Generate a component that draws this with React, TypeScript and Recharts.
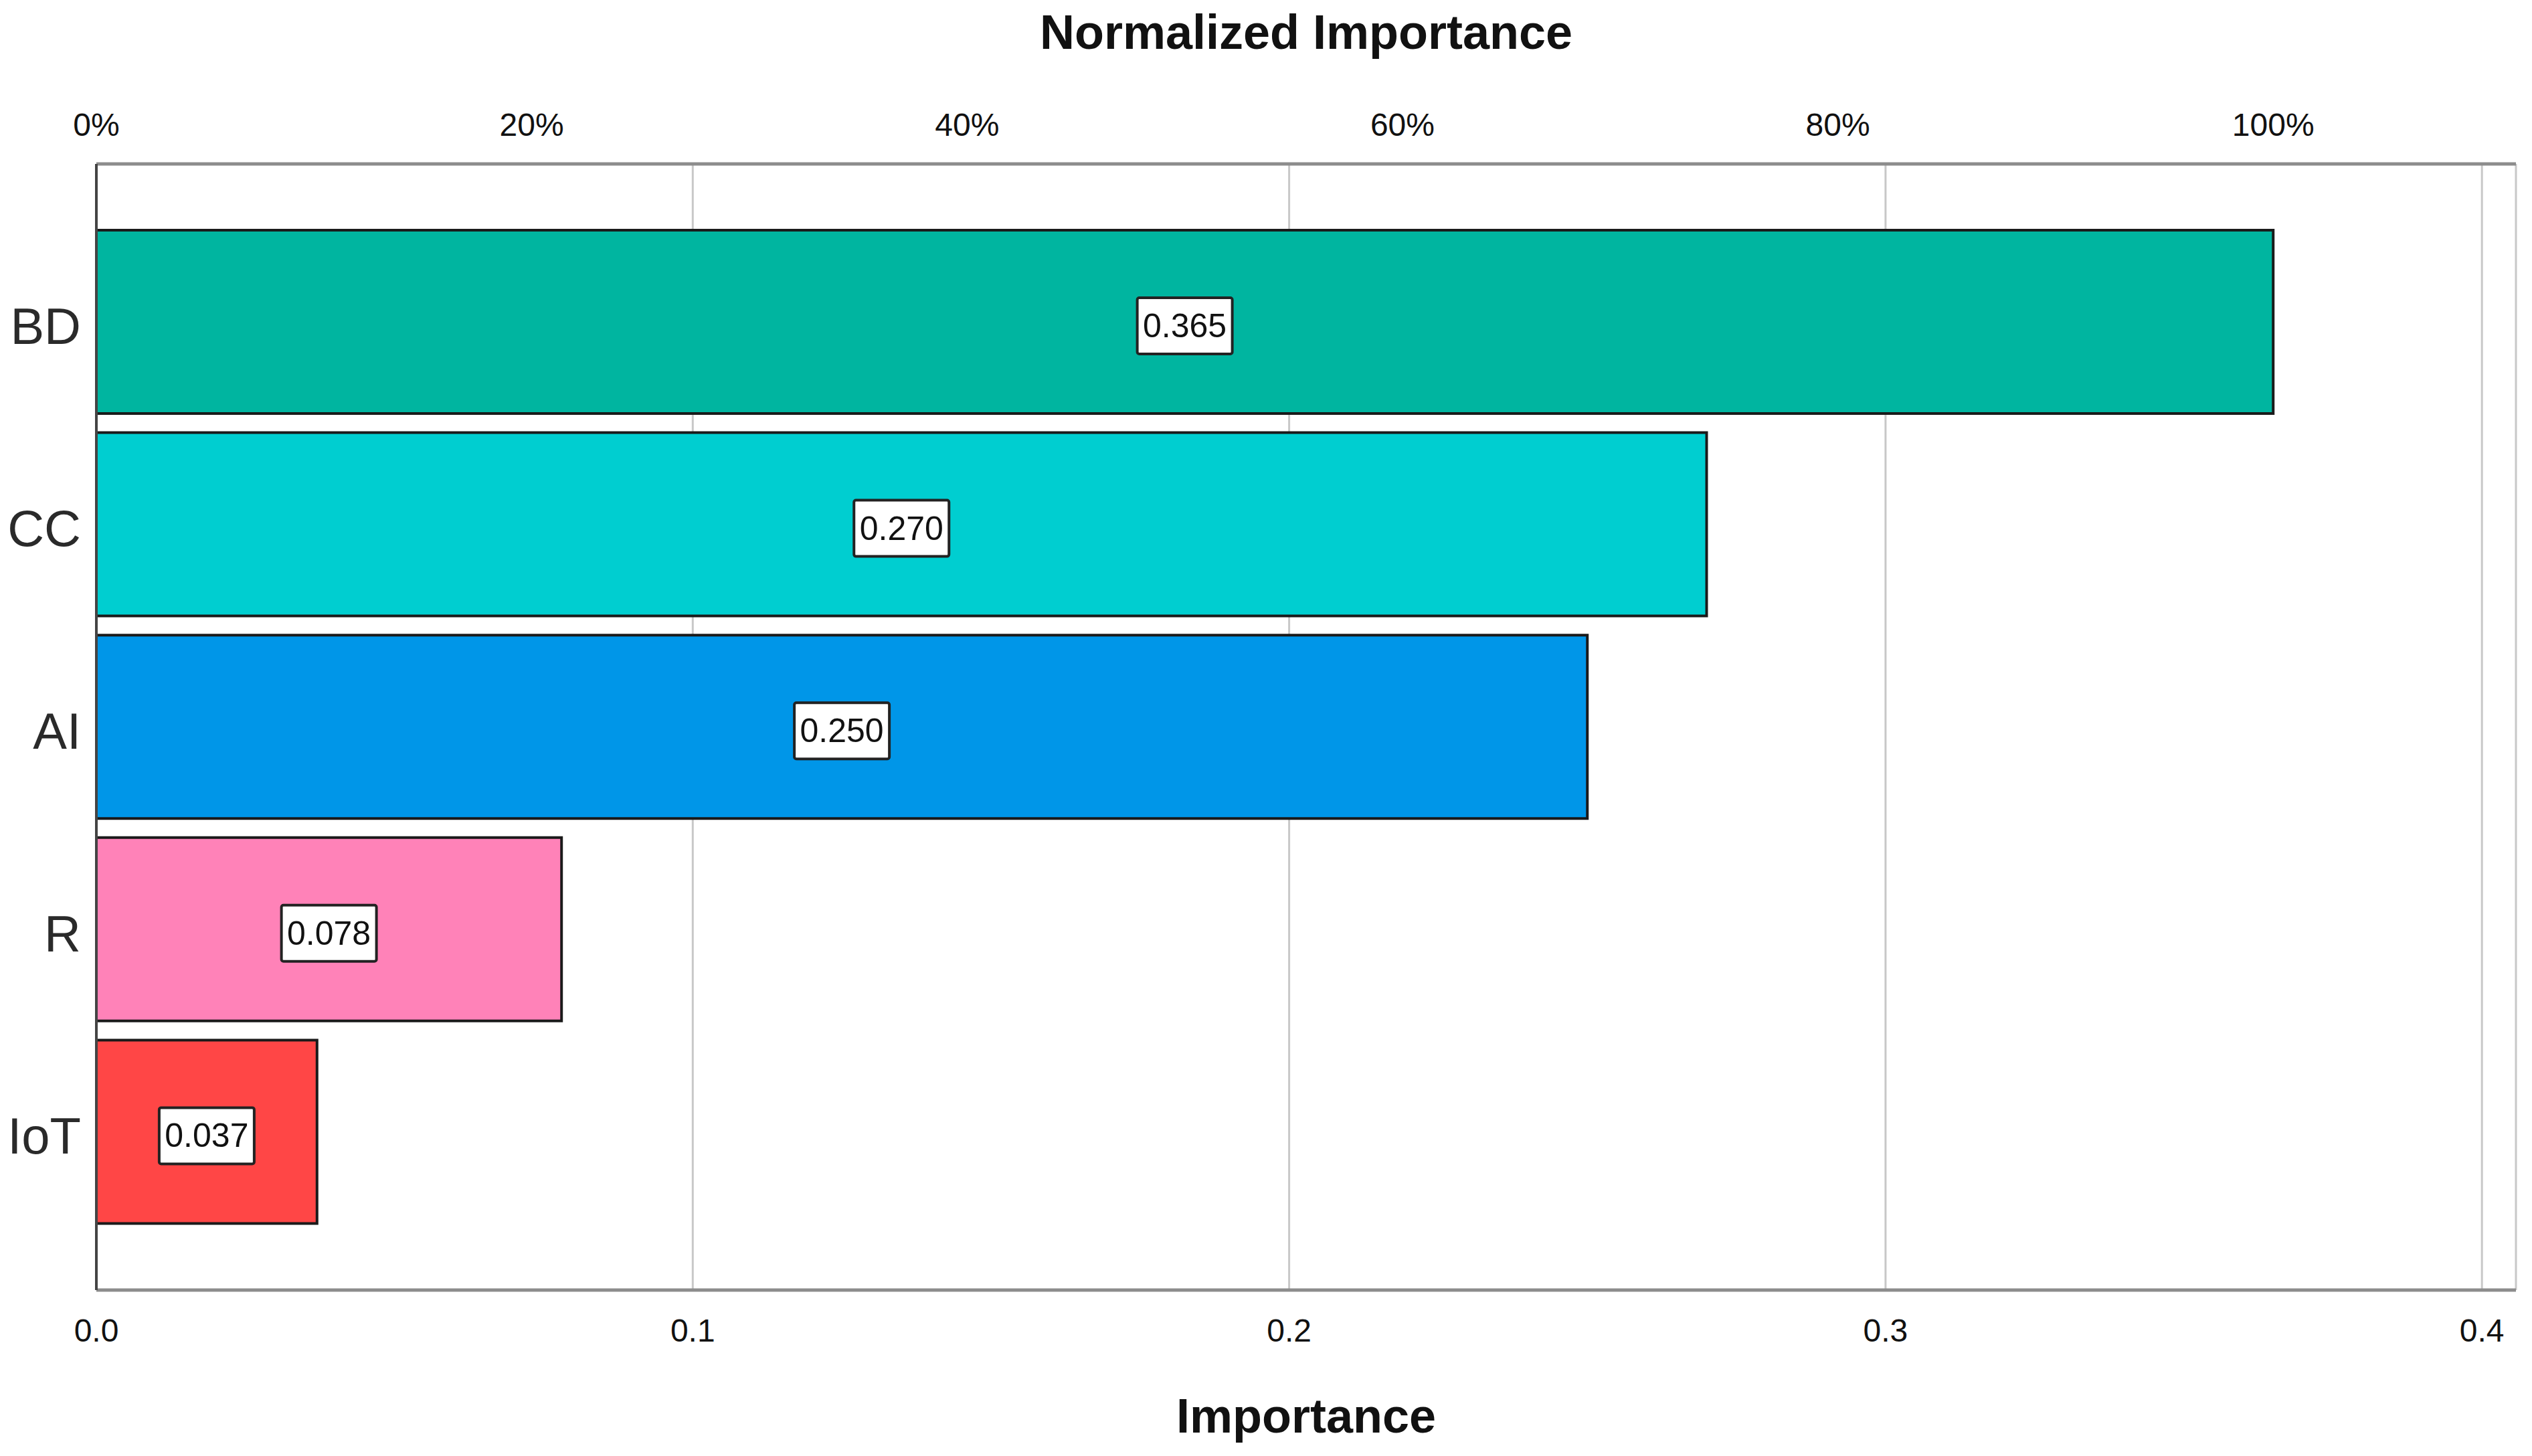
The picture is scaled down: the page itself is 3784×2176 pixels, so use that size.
import React from "react";
import {
    BarChart,
    Bar,
    XAxis,
    YAxis,
    CartesianGrid,
    Cell,
    LabelList,
    Label,
} from "recharts";

// predictor names, top to bottom
const predictors = ["BD", "CC", "AI", "R", "IoT"];
// importance values as printed on the bars
const importance = [0.365, 0.27, 0.25, 0.078, 0.037];
const barColors = ["#00B5A0", "#00CED0", "#0096E8", "#FF82B8", "#FF4646"];

const importanceTicks = [0, 0.1, 0.2, 0.3, 0.4];
const normalizedTicks = [0, 20, 40, 60, 80, 100];
const importanceMax = 0.4057;

const FONT = "'Liberation Sans', Arial, sans-serif";

const data = predictors.map((name, i) => ({ name, value: importance[i] }));
const topValue = Math.max(...importance);

function ValueBox(props: any) {
    const { x, y, width, height, value } = props;
    const cx = Number(x) + Number(width) / 2;
    const cy = Number(y) + Number(height) / 2 + 6;
    const w = 142;
    const h = 84;
    return (
        <g>
            <rect
                x={cx - w / 2}
                y={cy - h / 2}
                width={w}
                height={h}
                rx={3}
                fill="#ffffff"
                stroke="#222"
                strokeWidth={4}
            />
            <text
                x={cx}
                y={cy}
                textAnchor="middle"
                dominantBaseline="central"
                fontSize={50}
                fontFamily={FONT}
                fill="#111"
            >
                {Number(value).toFixed(3)}
            </text>
        </g>
    );
}

function CategoryTick(props: any) {
    const { x, y, payload } = props;
    return (
        <text
            x={x}
            y={Number(y) + 6}
            textAnchor="end"
            dominantBaseline="central"
            fontSize={76}
            fontFamily={FONT}
            fill="#2a2a2a"
        >
            {payload.value}
        </text>
    );
}

export default function App() {
    return (
        <div style={{ width: 3768, height: 2160, background: "#fff" }}>
            <BarChart
                width={3768}
                height={2160}
                data={data}
                layout="vertical"
                margin={{ top: 0, right: 16, bottom: 0, left: 0 }}
            >
                <CartesianGrid
                    xAxisId="imp"
                    horizontal={false}
                    vertical={true}
                    stroke="#c8c8c8"
                    strokeWidth={3}
                />
                <XAxis
                    xAxisId="imp"
                    type="number"
                    orientation="bottom"
                    domain={[0, importanceMax]}
                    allowDataOverflow
                    ticks={importanceTicks}
                    tickFormatter={(v) => Number(v).toFixed(1)}
                    height={240}
                    tickLine={false}
                    tickSize={0}
                    tickMargin={43}
                    axisLine={{ stroke: "#8c8c8c", strokeWidth: 5 }}
                    tick={{ fontSize: 48, fill: "#111", fontFamily: FONT }}
                >
                    <Label
                        value="Importance"
                        position="insideBottom"
                        offset={27}
                        style={{ fontSize: 72, fontWeight: 700, fill: "#111", fontFamily: FONT }}
                    />
                </XAxis>
                <XAxis
                    xAxisId="pct"
                    type="number"
                    orientation="top"
                    domain={[0, importanceMax]}
                    allowDataOverflow
                    ticks={normalizedTicks.map((p) => (p / 100) * topValue)}
                    tickFormatter={(v) => `${Math.round((Number(v) / topValue) * 100)}%`}
                    height={237}
                    tickLine={false}
                    tickSize={0}
                    tickMargin={42}
                    axisLine={{ stroke: "#8c8c8c", strokeWidth: 5 }}
                    tick={{ fontSize: 48, fill: "#111", fontFamily: FONT }}
                >
                    <Label
                        value="Normalized Importance"
                        position="insideTop"
                        offset={14}
                        style={{ fontSize: 72, fontWeight: 700, fill: "#111", fontFamily: FONT }}
                    />
                </XAxis>
                <YAxis
                    type="category"
                    dataKey="name"
                    width={136}
                    padding={{ top: 85, bottom: 85 }}
                    tickLine={false}
                    tickSize={0}
                    tickMargin={23}
                    axisLine={{ stroke: "#444", strokeWidth: 4 }}
                    tick={<CategoryTick />}
                />
                <Bar
                    xAxisId="imp"
                    dataKey="value"
                    barSize={274}
                    stroke="#1a1a1a"
                    strokeWidth={4}
                    isAnimationActive={false}
                >
                    {data.map((d, i) => (
                        <Cell key={d.name} fill={barColors[i]} />
                    ))}
                    <LabelList dataKey="value" content={<ValueBox />} />
                </Bar>
            </BarChart>
        </div>
    );
}
